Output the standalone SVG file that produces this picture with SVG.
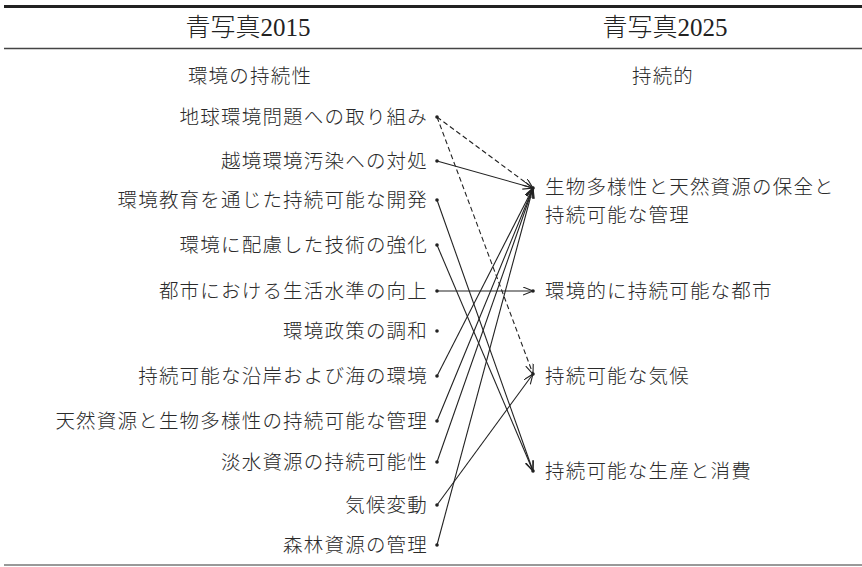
<svg xmlns="http://www.w3.org/2000/svg" width="862" height="567" viewBox="0 0 862 567">
<style>
.t{font-family:"Noto Sans CJK JP","Noto Sans CJK SC",sans-serif;font-size:19.5px;font-weight:300;fill:#2a2a2a;letter-spacing:1.2px}
.h{font-family:"Liberation Serif","Noto Sans CJK JP",serif;font-size:25px;font-weight:300;fill:#222}
.l{fill:none;stroke:#222;stroke-width:1.1}
.d{stroke-dasharray:5,3}
.dot{fill:#222}
</style>
<defs>
<marker id="ar" markerWidth="12" markerHeight="10" refX="10" refY="4" orient="auto" markerUnits="userSpaceOnUse">
<path d="M0,0 L10,4 L0,8" fill="none" stroke="#222" stroke-width="1.1"/>
</marker>
</defs>
<g id="rules">
<line x1="4" y1="6.5" x2="862" y2="6.5" stroke="#222" stroke-width="3"/>
<line x1="4" y1="48.5" x2="862" y2="48.5" stroke="#444" stroke-width="1.3"/>
<line x1="4" y1="565" x2="862" y2="565" stroke="#777" stroke-width="1.5"/>
</g>
<g id="headers">
<text class="h" x="248" y="36" text-anchor="middle">青写真2015</text>
<text class="h" x="665" y="36" text-anchor="middle">青写真2025</text>
<text class="t" x="250" y="83" text-anchor="middle">環境の持続性</text>
<text class="t" x="663" y="83" text-anchor="middle">持続的</text>
</g>
<g id="left">
<g id="l1"><text class="t" x="428" y="124" text-anchor="end">地球環境問題への取り組み</text><circle class="dot" cx="437" cy="117" r="1.8"/></g>
<g id="l2"><text class="t" x="428" y="168" text-anchor="end">越境環境汚染への対処</text><circle class="dot" cx="437" cy="161" r="1.8"/></g>
<g id="l3"><text class="t" x="428" y="207" text-anchor="end">環境教育を通じた持続可能な開発</text><circle class="dot" cx="437" cy="200" r="1.8"/></g>
<g id="l4"><text class="t" x="428" y="252" text-anchor="end">環境に配慮した技術の強化</text><circle class="dot" cx="437" cy="245" r="1.8"/></g>
<g id="l5"><text class="t" x="428" y="298" text-anchor="end">都市における生活水準の向上</text><circle class="dot" cx="437" cy="291" r="1.8"/></g>
<g id="l6"><text class="t" x="428" y="338" text-anchor="end">環境政策の調和</text><circle class="dot" cx="437" cy="331" r="1.8"/></g>
<g id="l7"><text class="t" x="428" y="383" text-anchor="end">持続可能な沿岸および海の環境</text><circle class="dot" cx="437" cy="376" r="1.8"/></g>
<g id="l8"><text class="t" x="428" y="428" text-anchor="end">天然資源と生物多様性の持続可能な管理</text><circle class="dot" cx="437" cy="421" r="1.8"/></g>
<g id="l9"><text class="t" x="428" y="469" text-anchor="end">淡水資源の持続可能性</text><circle class="dot" cx="437" cy="462" r="1.8"/></g>
<g id="l10"><text class="t" x="428" y="512" text-anchor="end">気候変動</text><circle class="dot" cx="437" cy="505" r="1.8"/></g>
<g id="l11"><text class="t" x="428" y="552" text-anchor="end">森林資源の管理</text><circle class="dot" cx="437" cy="545" r="1.8"/></g>
</g>
<g id="right">
<g id="r1"><text class="t" x="545" y="194"><tspan x="545" y="194">生物多様性と天然資源の保全と</tspan><tspan x="545" y="222">持続可能な管理</tspan></text><circle class="dot" cx="533" cy="188" r="1.8"/></g>
<g id="r2"><text class="t" x="545" y="298">環境的に持続可能な都市</text><circle class="dot" cx="533" cy="291" r="1.8"/></g>
<g id="r3"><text class="t" x="545" y="383">持続可能な気候</text><circle class="dot" cx="533" cy="374" r="1.8"/></g>
<g id="r4"><text class="t" x="545" y="478">持続可能な生産と消費</text><circle class="dot" cx="533" cy="471" r="1.8"/></g>
</g>
<g id="connectors">
<line class="l d" x1="437" y1="117" x2="533" y2="188" marker-end="url(#ar)"/>
<line class="l d" x1="437" y1="117" x2="533" y2="374" marker-end="url(#ar)"/>
<line class="l" x1="437" y1="161" x2="533" y2="188" marker-end="url(#ar)"/>
<line class="l" x1="437" y1="200" x2="533" y2="471" marker-end="url(#ar)"/>
<line class="l" x1="437" y1="245" x2="533" y2="471" marker-end="url(#ar)"/>
<line class="l" x1="437" y1="291" x2="533" y2="291" marker-end="url(#ar)"/>
<line class="l" x1="437" y1="376" x2="533" y2="188" marker-end="url(#ar)"/>
<line class="l" x1="437" y1="421" x2="533" y2="188" marker-end="url(#ar)"/>
<line class="l" x1="437" y1="462" x2="533" y2="188" marker-end="url(#ar)"/>
<line class="l" x1="437" y1="505" x2="533" y2="374" marker-end="url(#ar)"/>
<line class="l" x1="437" y1="545" x2="533" y2="188" marker-end="url(#ar)"/>
</g>
</svg>
